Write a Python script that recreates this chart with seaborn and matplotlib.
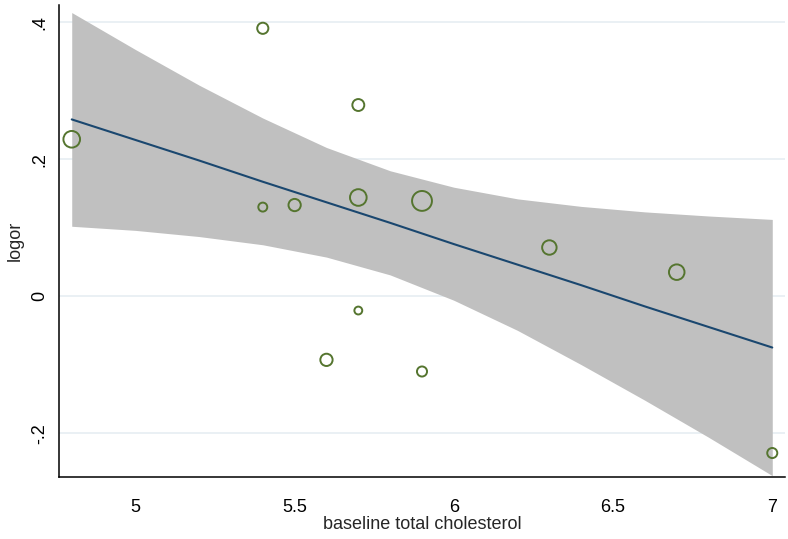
import numpy as np
import pandas as pd
import seaborn as sns
import matplotlib
matplotlib.use('Agg')
import matplotlib.pyplot as plt

# study-level data: baseline cholesterol, log odds ratio, study weight
cholesterol = [4.8, 5.4, 5.4, 5.5, 5.7, 5.7, 5.7, 5.6, 5.9, 5.9, 6.3, 6.7, 7.0]
logor = [0.229, 0.391, 0.130, 0.133, 0.279, 0.144, -0.021, -0.093, 0.139, -0.110, 0.071, 0.035, -0.229]
weight = [240, 110, 72, 132, 125, 240, 56, 132, 342, 90, 182, 210, 90]

# fitted meta-regression line with 95% CI
fit_x = [4.8, 5.0, 5.2, 5.4, 5.6, 5.8, 6.0, 6.2, 6.4, 6.6, 6.8, 7.0]
fit_y = [0.258, 0.228, 0.198, 0.167, 0.137, 0.107, 0.076, 0.046, 0.016, -0.015, -0.045, -0.075]
ci_upper = [0.414, 0.360, 0.308, 0.260, 0.217, 0.183, 0.159, 0.142, 0.131, 0.123, 0.117, 0.112]
ci_lower = [0.102, 0.096, 0.087, 0.075, 0.057, 0.031, -0.006, -0.050, -0.100, -0.152, -0.206, -0.262]

xticks = [5, 5.5, 6, 6.5, 7]
xtick_labels = ['5', '5.5', '6', '6.5', '7']
yticks = [-0.2, 0, 0.2, 0.4]
ytick_labels = ['-.2', '0', '.2', '.4']

sns.set_style('white')
plt.rcParams['font.family'] = ['Liberation Sans', 'DejaVu Sans']

df = pd.DataFrame({'chol': cholesterol, 'logor': logor, 'w': weight})
fit = pd.DataFrame({'x': fit_x, 'y': fit_y, 'lo': ci_lower, 'hi': ci_upper})

fig = plt.figure(figsize=(7.88, 5.39), dpi=100)
ax = fig.add_axes([59 / 788, 1 - 477 / 539, 726 / 788, 472 / 539])

for yt in yticks:
    ax.axhline(yt, color='#e6eef2', lw=1.2, zorder=0)

ax.fill_between(fit['x'], fit['lo'], fit['hi'], color='#c0c0c0', lw=0, zorder=1)
sns.lineplot(data=fit, x='x', y='y', color='#1a476f', lw=1.5, ax=ax, zorder=2)
sns.scatterplot(data=df, x='chol', y='logor', size='w', sizes=(32, 205),
                facecolors='none', edgecolor='#55752f', linewidth=1.4,
                legend=False, ax=ax, zorder=3)

ax.set_xlim(4.76, 7.04)
ax.set_ylim(-0.264, 0.425)
ax.set_xticks(xticks)
ax.set_xticklabels(xtick_labels)
ax.set_yticks(yticks)
ax.set_yticklabels(ytick_labels, rotation=90, va='center')

sns.despine(ax=ax)
for side in ['left', 'bottom']:
    ax.spines[side].set_color('black')
    ax.spines[side].set_linewidth(1.1)
ax.tick_params(axis='both', which='major', length=6, width=1.0, color='black',
               labelsize=13, labelcolor='black', direction='out')
ax.tick_params(axis='x', pad=10)
ax.tick_params(axis='y', pad=2)
ax.set_xlabel('baseline total cholesterol', fontsize=13, labelpad=0)
ax.set_ylabel('logor', fontsize=13, labelpad=5)

fig.savefig('out.png', dpi=100)
